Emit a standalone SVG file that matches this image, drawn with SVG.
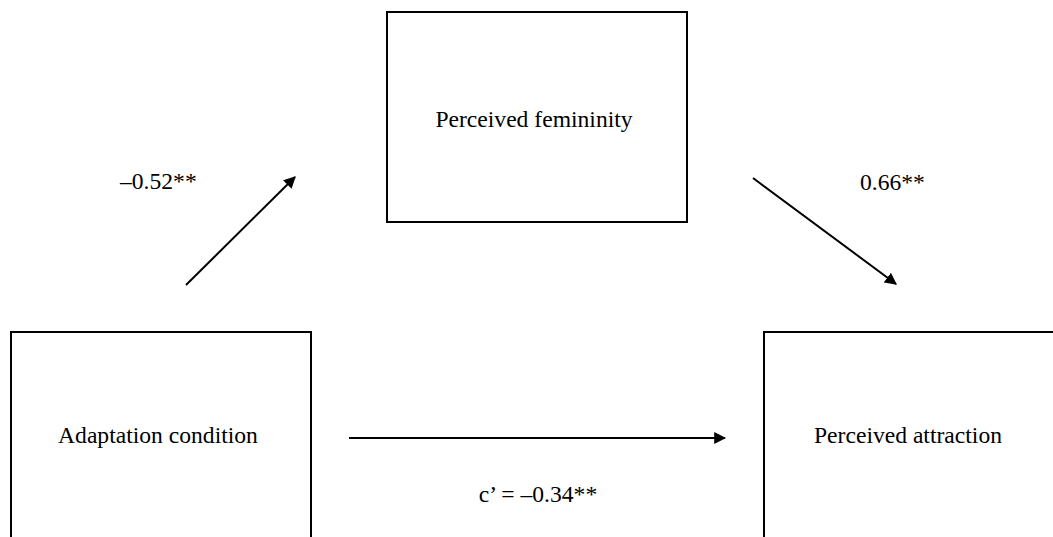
<svg xmlns="http://www.w3.org/2000/svg" width="1053" height="537" viewBox="0 0 1053 537">
<style>
.box{fill:#fff;stroke:#000;stroke-width:2}
.t{font-family:"Liberation Serif","Times New Roman",serif;font-size:23.6px;fill:#000}
.c{stroke:#000;stroke-width:2;fill:none}
</style>
<defs>
<marker id="ah" viewBox="0 0 10 10" refX="9" refY="5" markerWidth="6" markerHeight="6" markerUnits="strokeWidth" orient="auto">
<path d="M0,0 L10,5 L0,10 z" fill="#000"/>
</marker>
</defs>
<rect width="1053" height="537" fill="#fff"/>
<g id="n-femininity">
<rect class="box" x="387" y="12" width="300" height="210"/>
<text class="t" x="534" y="127" text-anchor="middle">Perceived femininity</text>
</g>
<g id="n-adaptation">
<rect class="box" x="11" y="332" width="300" height="220"/>
<text class="t" x="158" y="443" text-anchor="middle">Adaptation condition</text>
</g>
<g id="n-attraction">
<rect class="box" x="764" y="332" width="300" height="220"/>
<text class="t" x="908" y="443" text-anchor="middle">Perceived attraction</text>
</g>
<g id="connectors">
<line class="c" x1="186" y1="285" x2="295" y2="177" marker-end="url(#ah)"/>
<line class="c" x1="753" y1="178" x2="896" y2="284" marker-end="url(#ah)"/>
<line class="c" x1="349" y1="438" x2="725" y2="438" marker-end="url(#ah)"/>
</g>
<g id="labels">
<text class="t" x="120" y="189">–0.52**</text>
<text class="t" x="860" y="190">0.66**</text>
<text class="t" x="538" y="502" text-anchor="middle">c’ = –0.34**</text>
</g>
</svg>
